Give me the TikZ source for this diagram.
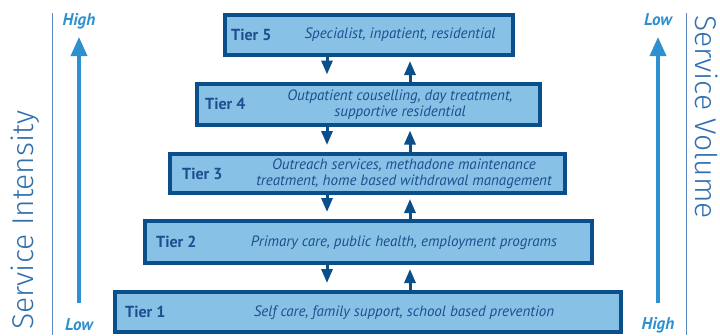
\documentclass[tikz,border=0pt]{standalone}
\usepackage{fontspec}
\setmainfont{PT Sans}
\newfontfamily\lightfont{Fira Sans Light}
\usetikzlibrary{arrows.meta,calc}
\definecolor{boxfill}{HTML}{88C1E6}
\definecolor{boxline}{HTML}{0B4F8A}
\definecolor{boxtext}{HTML}{1B4F8F}
\definecolor{sideblue}{HTML}{2E90CF}
\definecolor{titleblue}{HTML}{3170AE}
\definecolor{rulecol}{HTML}{5A8AC0}
\tikzset{
  tierbox/.style={draw=boxline, fill=boxfill, line width=4pt, inner sep=0pt},
  tierlabel/.style={anchor=west, text=boxtext, font=\fontsize{16}{18}\selectfont\bfseries, inner sep=0pt},
  tierdesc/.style={text=boxtext, font=\fontsize{15}{15.5}\selectfont\itshape, align=center, inner sep=0pt},
  darr/.style={draw=boxline, line width=3pt, -{Triangle[width=11pt,length=14pt]}, shorten >=7pt},
  uarr/.style={draw=boxline, line width=3pt, -{Triangle[width=11pt,length=14pt]}, shorten >=4pt},
  sidearr/.style={draw=sideblue, line width=3.5pt, -{Triangle[width=16pt,length=19pt]}},
  sidelab/.style={text=sideblue, font=\fontsize{17}{19}\selectfont\bfseries\itshape, inner sep=0pt},
  sidetitle/.style={text=titleblue, font=\fontsize{30}{32}\selectfont\lightfont, inner sep=0pt},
  siderule/.style={draw=rulecol, line width=0.8pt}
}
\begin{document}
\begin{tikzpicture}[x=1pt,y=-1pt]
\useasboundingbox (0,0) rectangle (720,335);
% boxes
\node[tierbox, minimum width=288pt, minimum height=40pt] (t5) at (369,35) {};
\node[tierbox, minimum width=343pt, minimum height=41pt] (t4) at (368.5,104) {};
\node[tierbox, minimum width=395pt, minimum height=39pt] (t3) at (367.5,173.5) {};
\node[tierbox, minimum width=447pt, minimum height=42pt] (t2) at (368.5,242) {};
\node[tierbox, minimum width=506pt, minimum height=40pt] (t1) at (368,312) {};
% labels
\node[tierlabel] (l5) at ($(t5.west)+(8,0)$) {Tier 5};
\node[tierlabel] (l4) at ($(t4.west)+(10,0)$) {Tier 4};
\node[tierlabel] (l3) at ($(t3.west)+(14,0)$) {Tier 3};
\node[tierlabel] (l2) at ($(t2.west)+(13,0)$) {Tier 2};
\node[tierlabel] (l1) at ($(t1.west)+(12,0)$) {Tier 1};
\node[tierdesc] (d5) at (400,35) {Specialist, inpatient, residential};
\node[tierdesc] (d4) at (400,104.5) {Outpatient couselling, day treatment,\\supportive residential};
\node[tierdesc] (d3) at (404,173.5) {Outreach services, methadone maintenance\\treatment, home based withdrawal management};
\node[tierdesc] (d2) at (404,243) {Primary care, public health, employment programs};
\node[tierdesc] (d1) at (404,313) {Self care, family support, school based prevention};
% arrows between tiers
\coordinate (dx) at (327,0);
\coordinate (ux) at (410,0);
\draw[darr] (t5.south -| dx) -- (t4.north -| dx);
\draw[uarr] (t4.north -| ux) -- (t5.south -| ux);
\draw[darr] (t4.south -| dx) -- (t3.north -| dx);
\draw[uarr] (t3.north -| ux) -- (t4.south -| ux);
\draw[darr] (t3.south -| dx) -- (t2.north -| dx);
\draw[uarr] (t2.north -| ux) -- (t3.south -| ux);
\draw[darr] (t2.south -| dx) -- (t1.north -| dx);
\draw[uarr] (t1.north -| ux) -- (t2.south -| ux);
% left side
\coordinate (lr1) at (52,13);
\coordinate (lr2) at (52,335);
\draw[siderule] (lr1) -- (lr2);
\node[sidelab] (lhigh) at (79,21) {High};
\node[sidelab] (llow) at (79,325) {Low};
\coordinate (la1) at (79,303);
\coordinate (la2) at (79,37);
\draw[sidearr] (la1) -- (la2);
\node[sidetitle, rotate=90] (lt) at (25,220) {Service Intensity};
% right side
\coordinate (rr1) at (686,13);
\coordinate (rr2) at (686,335);
\draw[siderule] (rr1) -- (rr2);
\node[sidelab] (rlow) at (658,20) {Low};
\node[sidelab] (rhigh) at (658,325) {High};
\coordinate (ra1) at (658,303);
\coordinate (ra2) at (658,37);
\draw[sidearr] (ra1) -- (ra2);
\node[sidetitle, rotate=-90] (rt) at (707,117) {Service Volume};
\end{tikzpicture}
\end{document}
